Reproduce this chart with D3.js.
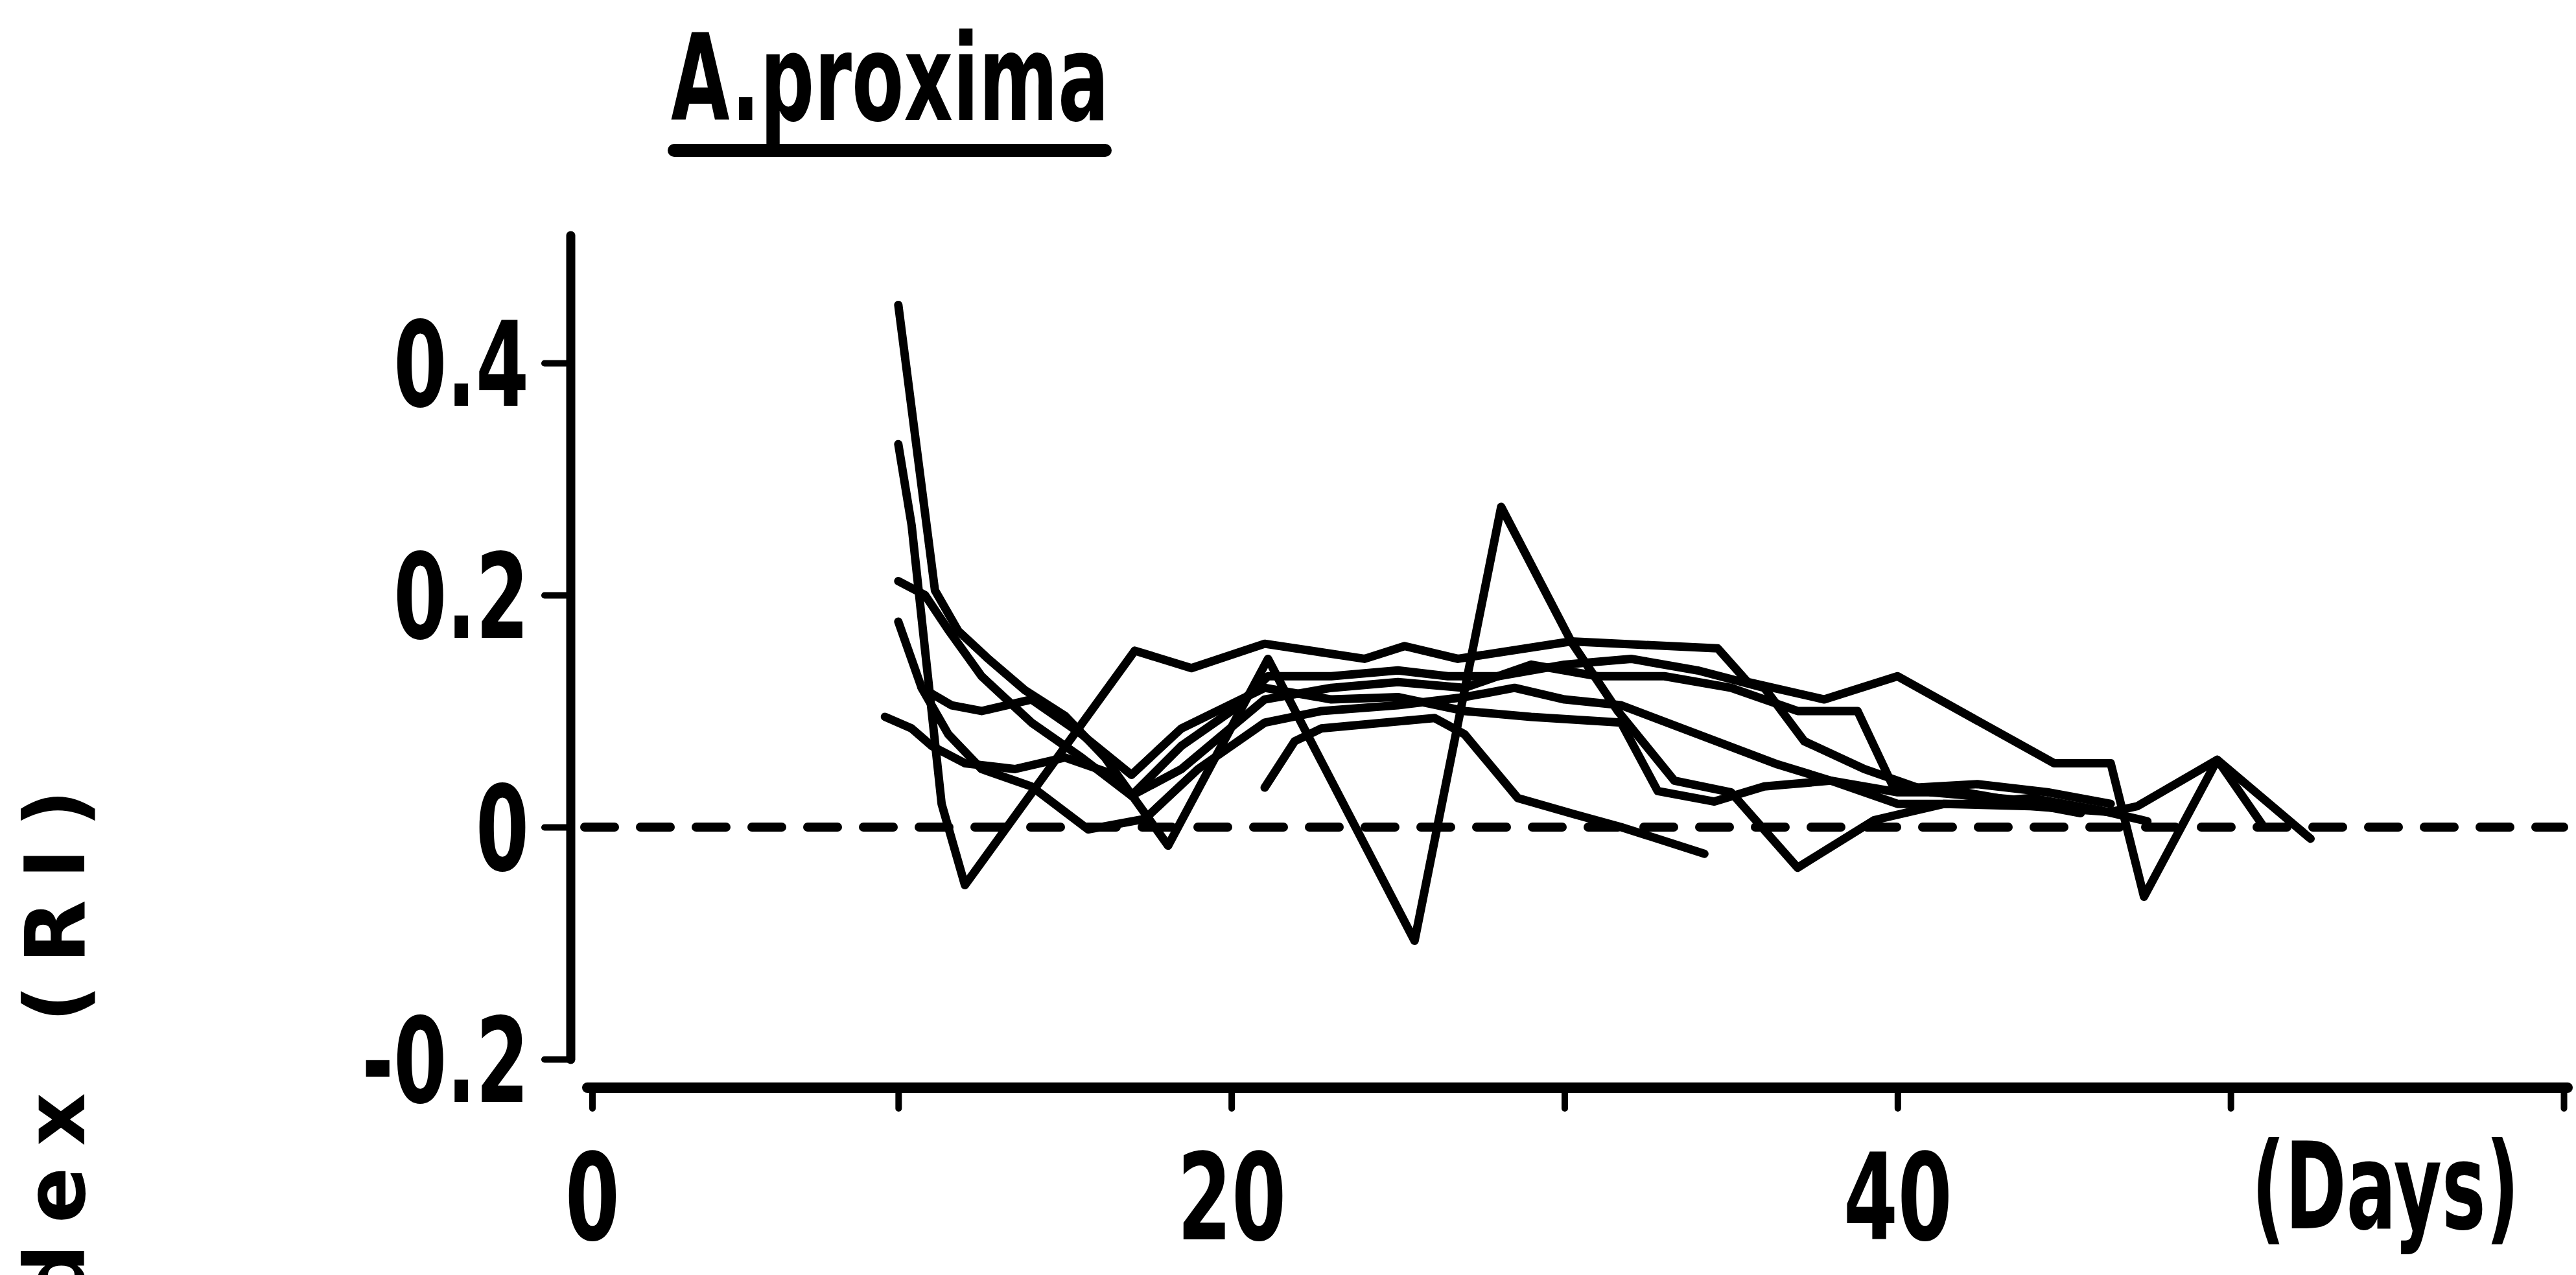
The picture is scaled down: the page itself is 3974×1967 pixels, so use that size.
<!DOCTYPE html>
<html>
<head>
<meta charset="utf-8">
<script src="https://cdn.jsdelivr.net/npm/d3@7"></script>
<style>
  html, body { margin: 0; padding: 0; background: #ffffff; }
  svg { display: block; }
</style>
</head>
<body>
<svg id="chart" width="3974" height="1967"></svg>
<script>
// ---------------- data ----------------
const title = "A.proxima";
const yLabel = "Reproductive index (RI)";
const xLabel = "(Days)";
const yTicks = [-0.2, 0, 0.2, 0.4];
const xTicks = [0, 10, 20, 30, 40, 50, 60];
const xTickLabels = ["0", "", "20", "", "40", "", ""];

// individual colonies: day of observation and RI value
const s1Days = [10, 10.4, 11.3, 12, 17.1, 18.8, 21, 24, 25.2, 26.8, 30.2, 34.6, 35.5, 37.8, 40, 44.7, 46.4, 47.4, 49.6, 51];
const s1Vals = [0.33, 0.26, 0.02, -0.05, 0.152, 0.137, 0.158, 0.145, 0.156, 0.145, 0.16, 0.154, 0.125, 0.11, 0.13, 0.055, 0.055, -0.06, 0.058, 0.0];

const s2Days = [10, 11.1, 11.8, 12.7, 13.8, 15, 16.2, 18.1, 21.1, 25.5, 28.1, 30.2, 31.6, 33.3, 35, 37, 39.3, 41.4, 44, 46.4, 47.2, 49.6, 52.4];
const s2Vals = [0.45, 0.204, 0.169, 0.145, 0.118, 0.096, 0.06, -0.016, 0.145, -0.098, 0.276, 0.16, 0.1, 0.04, 0.03, -0.035, 0.006, 0.02, 0.018, 0.013, 0.018, 0.058, -0.01];

const s3Days = [10, 10.8, 11.5, 12.5, 14, 15.5, 17, 18.5, 21, 23, 25, 27, 29, 31, 33, 35, 37, 38.8, 39.9, 42.4, 44.5, 46.4];
const s3Vals = [0.212, 0.2, 0.17, 0.13, 0.09, 0.06, 0.027, 0.05, 0.11, 0.12, 0.125, 0.12, 0.14, 0.13, 0.13, 0.12, 0.1, 0.1, 0.033, 0.037, 0.03, 0.02];

const s4Days = [10, 10.7, 11.5, 12.5, 14, 15.7, 17.4, 19, 21, 22.7, 25, 27, 28.5, 30, 31.7, 34, 36.4, 38, 40, 42, 44, 46, 47.5];
const s4Vals = [0.177, 0.12, 0.08, 0.05, 0.035, -0.002, 0.007, 0.05, 0.09, 0.1, 0.105, 0.112, 0.12, 0.11, 0.105, 0.08, 0.054, 0.04, 0.02, 0.02, 0.025, 0.015, 0.005];

const s5Days = [9.6, 10.4, 11, 12, 13.5, 15, 16.5, 17, 18.5, 20, 21.1, 23, 25, 26.5, 28, 30, 32, 34, 36, 37.2, 39, 41, 43, 45];
const s5Vals = [0.095, 0.085, 0.07, 0.055, 0.05, 0.06, 0.045, 0.027, 0.07, 0.1, 0.13, 0.13, 0.135, 0.13, 0.13, 0.14, 0.145, 0.135, 0.12, 0.074, 0.05, 0.03, 0.025, 0.02];

const s6Days = [21, 21.9, 22.7, 26.1, 27, 28.6, 30.3, 31.7, 34.2];
const s6Vals = [0.034, 0.074, 0.085, 0.094, 0.08, 0.025, 0.011, 0.0, -0.023];

const s7Days = [10.7, 11.6, 12.5, 14, 15.5, 17, 18.5, 21, 23, 25, 27, 29, 31.7, 32.8, 34.5, 36, 38, 40, 42, 44, 45.5];
const s7Vals = [0.12, 0.105, 0.1, 0.11, 0.08, 0.045, 0.085, 0.12, 0.11, 0.112, 0.1, 0.095, 0.09, 0.031, 0.022, 0.035, 0.04, 0.03, 0.03, 0.02, 0.012];

const seriesDays = [s1Days, s2Days, s3Days, s4Days, s5Days, s6Days, s7Days];
const seriesVals = [s1Vals, s2Vals, s3Vals, s4Vals, s5Vals, s6Vals, s7Vals];

// ---------------- layout ----------------
const W = 3974, H = 1967;
const narrow = "'DejaVu Sans Condensed', 'DejaVu Sans', sans-serif";
const wide = "'DejaVu Sans', sans-serif";
const sx = 0.72;          // horizontal compression of the narrow lettering

const x = d3.scaleLinear().domain([0, 60]).range([872, 3955]);
const y = d3.scaleLinear().domain([-0.2, 0.51]).range([1634, 363]);
const yAxisX = 880;
const xAxisY = 1678;
const xAxisStart = 906;

const svg = d3.select("#chart");
svg.append("rect").attr("width", W).attr("height", H).attr("fill", "#fff");

// zero reference line (dashed)
svg.append("line")
  .attr("x1", yAxisX + 22).attr("x2", x(60))
  .attr("y1", y(0)).attr("y2", y(0))
  .attr("stroke", "#000").attr("stroke-width", 14)
  .attr("stroke-linecap", "round")
  .attr("stroke-dasharray", "46 40");

// data lines
const line = d3.line().x(d => x(d[0])).y(d => y(d[1]));
const series = seriesDays.map((ds, i) => ds.map((d, j) => [d, seriesVals[i][j]]));
svg.append("g").selectAll("path").data(series).join("path")
  .attr("d", line)
  .attr("fill", "none").attr("stroke", "#000")
  .attr("stroke-width", 13)
  .attr("stroke-linejoin", "round").attr("stroke-linecap", "round");

// y axis
const yTickLen = 40, yPad = 24;
const yAxis = svg.append("g").attr("transform", `translate(${yAxisX},0)`)
  .call(d3.axisLeft(y).tickValues(yTicks).tickSize(yTickLen).tickSizeOuter(0).tickPadding(yPad)
    .tickFormat(d => d === 0 ? "0" : (d < 0 ? "-" : "") + Math.abs(d).toFixed(1)));
yAxis.select(".domain").attr("stroke-width", 14).attr("stroke-linecap", "round");
yAxis.selectAll(".tick line").attr("stroke-width", 10).attr("stroke-linecap", "round");
yAxis.selectAll(".tick text")
  .attr("font-family", narrow).attr("font-weight", "bold").attr("font-size", 182)
  .attr("fill", "#000").attr("dy", "0.36em")
  .attr("x", -(yTickLen + yPad) / sx)
  .attr("transform", `scale(${sx},1)`);

// x axis
const xAxis = svg.append("g").attr("transform", `translate(0,${xAxisY})`)
  .call(d3.axisBottom(x).tickValues(xTicks).tickSize(32).tickSizeOuter(0).tickPadding(70)
    .tickFormat((d, i) => xTickLabels[i]));
xAxis.select(".domain").remove();
xAxis.append("line")
  .attr("x1", xAxisStart).attr("x2", x(60) + 6)
  .attr("y1", 0).attr("y2", 0)
  .attr("stroke", "#000").attr("stroke-width", 16).attr("stroke-linecap", "round");
xAxis.selectAll(".tick").filter(d => d === 0).attr("transform", `translate(${xAxisStart + 8},0)`);
xAxis.selectAll(".tick line").attr("stroke-width", 10).attr("stroke-linecap", "round");
xAxis.selectAll(".tick text")
  .attr("font-family", narrow).attr("font-weight", "bold").attr("font-size", 186)
  .attr("fill", "#000").attr("dy", "0.71em")
  .attr("transform", `scale(${sx},1)`);

// x axis unit label
const daysSx = 0.68;
svg.append("text")
  .attr("x", 3680 / daysSx).attr("y", 1895)
  .attr("text-anchor", "middle")
  .attr("transform", `scale(${daysSx},1)`)
  .attr("font-family", narrow).attr("font-weight", "bold").attr("font-size", 186)
  .text(xLabel);

// y axis label (partly outside picture, as in the reference)
svg.append("text")
  .attr("transform", "translate(130,1186) rotate(-90)")
  .attr("text-anchor", "end")
  .attr("font-family", wide).attr("font-weight", "bold").attr("font-size", 128)
  .attr("letter-spacing", 32)
  .text(yLabel);

// title with underline
svg.append("text")
  .attr("x", 1035).attr("y", 185)
  .attr("font-family", narrow).attr("font-weight", "bold").attr("font-size", 185)
  .attr("textLength", 676).attr("lengthAdjust", "spacingAndGlyphs")
  .text(title);
svg.append("line")
  .attr("x1", 1040).attr("x2", 1705).attr("y1", 232).attr("y2", 232)
  .attr("stroke", "#000").attr("stroke-width", 20).attr("stroke-linecap", "round");
</script>
</body>
</html>
